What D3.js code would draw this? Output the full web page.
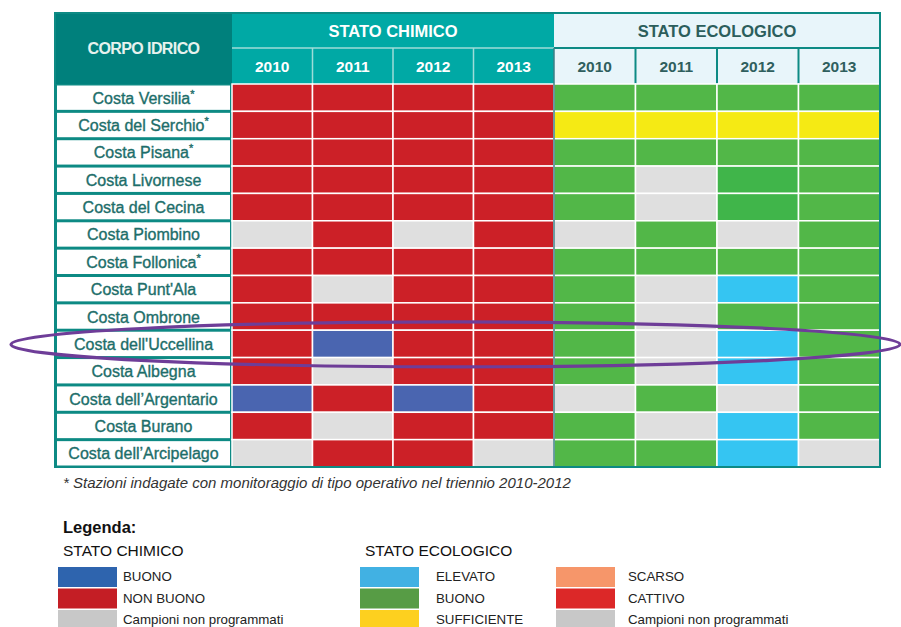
<!DOCTYPE html>
<html lang="it">
<head>
<meta charset="UTF-8">
<title>Stato chimico ed ecologico</title>
<style>
  body { margin:0; background:#fff; }
  svg text { font-family: "Liberation Sans", Arial, Helvetica, sans-serif; }
</style>
</head>
<body>
<script src="https://d3js.org/d3.v7.min.js"></script>
<script>
// ---- data ----
var years = ['2010', '2011', '2012', '2013'];

var corpi = [
  'Costa Versilia', 'Costa del Serchio', 'Costa Pisana', 'Costa Livornese',
  'Costa del Cecina', 'Costa Piombino', 'Costa Follonica', "Costa Punt'Ala",
  'Costa Ombrone', "Costa dell'Uccellina", 'Costa Albegna', 'Costa dell\u2019Argentario',
  'Costa Burano', 'Costa dell\u2019Arcipelago'
];

// stazioni con monitoraggio operativo (asterisco)
var operativo = [true, true, true, false, false, false, true, false, false, false, false, false, false, false];

// B = buono, N = non buono, G = campioni non programmati
var statoChimico = [
  ['N', 'N', 'N', 'N'],
  ['N', 'N', 'N', 'N'],
  ['N', 'N', 'N', 'N'],
  ['N', 'N', 'N', 'N'],
  ['N', 'N', 'N', 'N'],
  ['G', 'N', 'G', 'N'],
  ['N', 'N', 'N', 'N'],
  ['N', 'G', 'N', 'N'],
  ['N', 'N', 'N', 'N'],
  ['N', 'B', 'N', 'N'],
  ['N', 'G', 'N', 'N'],
  ['B', 'N', 'B', 'N'],
  ['N', 'G', 'N', 'N'],
  ['G', 'N', 'N', 'G']
];

// E = elevato, B = buono (Bd tonalita' piu' scura), S = sufficiente, G = non programmati
var statoEcologico = [
  ['B', 'B', 'B', 'B'],
  ['S', 'S', 'S', 'S'],
  ['B', 'B', 'B', 'B'],
  ['B', 'G', 'Bd', 'B'],
  ['B', 'G', 'Bd', 'B'],
  ['G', 'B', 'G', 'B'],
  ['B', 'B', 'B', 'B'],
  ['B', 'G', 'E', 'B'],
  ['B', 'G', 'B', 'B'],
  ['B', 'G', 'E', 'B'],
  ['B', 'G', 'E', 'B'],
  ['G', 'B', 'G', 'B'],
  ['B', 'G', 'E', 'B'],
  ['B', 'B', 'E', 'G']
];

var legendaChimicoCodici = ['B', 'N', 'G'];
var legendaChimicoEtichette = ['BUONO', 'NON BUONO', 'Campioni non programmati'];
var legendaEcoCodici = ['E', 'B', 'S', 'SC', 'C', 'G'];
var legendaEcoEtichette = ['ELEVATO', 'BUONO', 'SUFFICIENTE', 'SCARSO', 'CATTIVO', 'Campioni non programmati'];

var evidenziato = "Costa dell'Uccellina";

// ---- colori ----
var coloreChimico = { B: '#4a65b0', N: '#cc2027', G: '#dfdfdf' };
var coloreEco = { E: '#35c5f2', B: '#52b748', Bd: '#40b54a', S: '#f5ea14', G: '#dfdfdf' };
var legChimico = { B: '#2e64ae', N: '#c41e25', G: '#c8c8c8' };
var legEco = { E: '#41b1e3', B: '#579c45', S: '#fdd01f', SC: '#f6966a', C: '#dc2828', G: '#c8c8c8' };

var teal = '#0d8a84';

// ---- layout ----
var width = 901, height = 627;
var left = 55, labelRight = 232, mid = 554, right = 880;
var headTop = 13, headMid = 48, headBottom = 84, bottom = 467;

var svg = d3.select('body').append('svg')
  .attr('width', width)
  .attr('height', height);

var y = d3.scaleBand().domain(corpi).range([headBottom, bottom]);
var xChem = d3.scaleBand().domain(years).range([labelRight, mid]);
var xEco = d3.scaleBand().domain(years).range([mid, right]);

// header backgrounds
svg.append('rect')
  .attr('x', left).attr('y', headTop)
  .attr('width', labelRight - left).attr('height', headBottom - headTop)
  .attr('fill', '#00807c');
svg.append('rect')
  .attr('x', labelRight).attr('y', headTop)
  .attr('width', mid - labelRight).attr('height', headBottom - headTop)
  .attr('fill', '#00a9a5');
svg.append('rect')
  .attr('x', mid).attr('y', headTop)
  .attr('width', right - mid).attr('height', headBottom - headTop)
  .attr('fill', '#e8f5fa');

// header lines
svg.append('line')
  .attr('x1', labelRight).attr('x2', mid)
  .attr('y1', headMid).attr('y2', headMid)
  .attr('stroke', '#9fdcd8').attr('stroke-width', 1.5);
svg.append('line')
  .attr('x1', mid).attr('x2', right)
  .attr('y1', headMid).attr('y2', headMid)
  .attr('stroke', teal).attr('stroke-width', 2);

svg.selectAll('line.chem-sep')
  .data(years.slice(1))
  .enter().append('line')
  .attr('class', 'chem-sep')
  .attr('x1', function(d) { return xChem(d); })
  .attr('x2', function(d) { return xChem(d); })
  .attr('y1', headMid).attr('y2', headBottom)
  .attr('stroke', '#9fdcd8').attr('stroke-width', 1.5);

svg.selectAll('line.eco-sep')
  .data(years.slice(1))
  .enter().append('line')
  .attr('class', 'eco-sep')
  .attr('x1', function(d) { return xEco(d); })
  .attr('x2', function(d) { return xEco(d); })
  .attr('y1', headMid).attr('y2', headBottom)
  .attr('stroke', teal).attr('stroke-width', 2);

// header texts
svg.append('text')
  .attr('x', (left + labelRight) / 2).attr('y', (headTop + headBottom) / 2 + 5.5)
  .attr('text-anchor', 'middle')
  .attr('font-size', 16).attr('font-weight', 'bold')
  .attr('letter-spacing', -0.6)
  .attr('fill', '#e6f2ee')
  .text('CORPO IDRICO');

svg.append('text')
  .attr('x', (labelRight + mid) / 2).attr('y', (headTop + headMid) / 2 + 6)
  .attr('text-anchor', 'middle')
  .attr('font-size', 16.5).attr('font-weight', 'bold')
  .attr('fill', '#fff')
  .text('STATO CHIMICO');

svg.append('text')
  .attr('x', (mid + right) / 2).attr('y', (headTop + headMid) / 2 + 6)
  .attr('text-anchor', 'middle')
  .attr('font-size', 16.5).attr('font-weight', 'bold')
  .attr('fill', '#2c5e5c')
  .text('STATO ECOLOGICO');

svg.selectAll('text.year-chem')
  .data(years)
  .enter().append('text')
  .attr('class', 'year-chem')
  .attr('x', function(d) { return xChem(d) + xChem.bandwidth() / 2; })
  .attr('y', (headMid + headBottom) / 2 + 6)
  .attr('text-anchor', 'middle')
  .attr('font-size', 15.5).attr('font-weight', 'bold')
  .attr('fill', '#fff')
  .text(function(d) { return d; });

svg.selectAll('text.year-eco')
  .data(years)
  .enter().append('text')
  .attr('class', 'year-eco')
  .attr('x', function(d) { return xEco(d) + xEco.bandwidth() / 2; })
  .attr('y', (headMid + headBottom) / 2 + 6)
  .attr('text-anchor', 'middle')
  .attr('font-size', 15.5).attr('font-weight', 'bold')
  .attr('fill', '#2f5f5e')
  .text(function(d) { return d; });

// label column
svg.append('rect')
  .attr('x', left).attr('y', headBottom)
  .attr('width', labelRight - left).attr('height', bottom - headBottom)
  .attr('fill', teal);

svg.selectAll('rect.label-cell')
  .data(corpi)
  .enter().append('rect')
  .attr('class', 'label-cell')
  .attr('x', left + 2)
  .attr('y', function(d) { return y(d) + 1.5; })
  .attr('width', labelRight - left - 4)
  .attr('height', y.bandwidth() - 3)
  .attr('fill', '#fff');

var labels = svg.selectAll('text.label')
  .data(corpi)
  .enter().append('text')
  .attr('class', 'label')
  .attr('x', (left + labelRight) / 2)
  .attr('y', function(d) { return y(d) + y.bandwidth() / 2 + 6; })
  .attr('text-anchor', 'middle')
  .attr('font-size', 16)
  .attr('fill', '#1d6e6a')
  .attr('stroke', '#1d6e6a').attr('stroke-width', 0.35);

labels.append('tspan').text(function(d) { return d; });
labels.filter(function(d, i) { return operativo[i]; })
  .append('tspan')
  .attr('dy', -6)
  .attr('font-size', 11)
  .text('*');

// cells
var righeChem = svg.selectAll('g.row-chem')
  .data(statoChimico)
  .enter().append('g')
  .attr('class', 'row-chem')
  .attr('transform', function(d, i) { return 'translate(0,' + y(corpi[i]) + ')'; });

righeChem.selectAll('rect')
  .data(function(d) { return d; })
  .enter().append('rect')
  .attr('x', function(d, j) { return xChem(years[j]); })
  .attr('y', 0)
  .attr('width', xChem.bandwidth())
  .attr('height', y.bandwidth())
  .attr('fill', function(d) { return coloreChimico[d]; })
  .attr('stroke', '#fff').attr('stroke-width', 1.5);

var righeEco = svg.selectAll('g.row-eco')
  .data(statoEcologico)
  .enter().append('g')
  .attr('class', 'row-eco')
  .attr('transform', function(d, i) { return 'translate(0,' + y(corpi[i]) + ')'; });

righeEco.selectAll('rect')
  .data(function(d) { return d; })
  .enter().append('rect')
  .attr('x', function(d, j) { return xEco(years[j]); })
  .attr('y', 0)
  .attr('width', xEco.bandwidth())
  .attr('height', y.bandwidth())
  .attr('fill', function(d) { return coloreEco[d]; })
  .attr('stroke', '#fff').attr('stroke-width', 1.5);

// separator between blocks and outer border
svg.append('line')
  .attr('x1', mid).attr('x2', mid)
  .attr('y1', headMid).attr('y2', bottom)
  .attr('stroke', '#3c7f86').attr('stroke-width', 1.5);

svg.append('rect')
  .attr('x', left).attr('y', headTop)
  .attr('width', right - left).attr('height', bottom - headTop)
  .attr('fill', 'none')
  .attr('stroke', teal).attr('stroke-width', 2);

// highlight ellipse
svg.append('ellipse')
  .attr('cx', 455.5)
  .attr('cy', y(evidenziato) + y.bandwidth() / 2 + 0.5)
  .attr('rx', 444.5).attr('ry', 22.5)
  .attr('fill', 'none')
  .attr('stroke', '#6e3d98').attr('stroke-width', 3.2);

// footnote
svg.append('text')
  .attr('x', 63).attr('y', 488)
  .attr('font-size', 15).attr('font-style', 'italic')
  .attr('fill', '#333')
  .text('* Stazioni indagate con monitoraggio di tipo operativo nel triennio 2010-2012');

// legend
svg.append('text')
  .attr('x', 63).attr('y', 533)
  .attr('font-size', 16.5).attr('font-weight', 'bold')
  .attr('fill', '#111')
  .text('Legenda:');

svg.append('text')
  .attr('x', 63).attr('y', 556)
  .attr('font-size', 15.5)
  .attr('fill', '#111')
  .text('STATO CHIMICO');

svg.append('text')
  .attr('x', 365).attr('y', 556)
  .attr('font-size', 15.5)
  .attr('fill', '#111')
  .text('STATO ECOLOGICO');

var legY = d3.scaleBand().domain([0, 1, 2]).range([566.5, 631]);

function legenda(codici, etichette, colori, xs, xt) {
  var g = svg.append('g');
  g.selectAll('rect')
    .data(codici)
    .enter().append('rect')
    .attr('x', xs)
    .attr('y', function(d, i) { return legY(i) + 0.5; })
    .attr('width', 59)
    .attr('height', legY.bandwidth() - 1.5)
    .attr('fill', function(d) { return colori[d]; });
  g.selectAll('text')
    .data(etichette)
    .enter().append('text')
    .attr('x', xt)
    .attr('y', function(d, i) { return legY(i) + legY.bandwidth() / 2 + 4; })
    .attr('font-size', 13.3)
    .attr('fill', '#222')
    .text(function(d) { return d; });
}

legenda(legendaChimicoCodici, legendaChimicoEtichette, legChimico, 58, 123);
legenda(legendaEcoCodici.slice(0, 3), legendaEcoEtichette.slice(0, 3), legEco, 360, 436);
legenda(legendaEcoCodici.slice(3), legendaEcoEtichette.slice(3), legEco, 556, 628);
</script>
</body>
</html>
